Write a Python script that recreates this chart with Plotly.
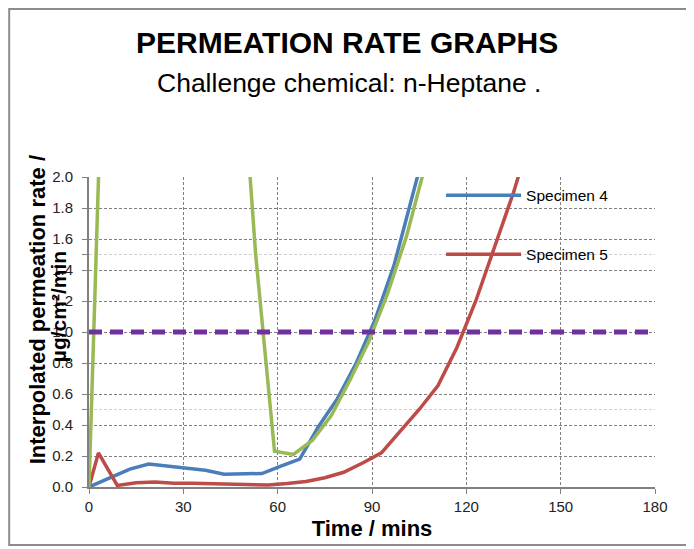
import plotly.graph_objects as go

# Specimen 4 (blue)
spec4_t = [0, 13, 19, 25, 31, 37, 43, 49, 55, 61, 67, 73, 79, 85, 91, 97, 103, 109]
spec4_v = [0.0, 0.115, 0.148, 0.135, 0.12, 0.108, 0.083, 0.085, 0.087, 0.135, 0.18,
           0.39, 0.57, 0.80, 1.08, 1.43, 1.88, 2.35]

# Specimen 5 (red)
spec5_t = [0, 3, 9, 15, 21, 27, 33, 39, 45, 51, 57, 63, 69, 75, 81, 87, 93, 99, 105,
           111, 117, 123, 129, 135, 141]
spec5_v = [0.0, 0.22, 0.01, 0.027, 0.032, 0.025, 0.025, 0.022, 0.02, 0.02, 0.013, 0.022,
           0.035, 0.06, 0.095, 0.155, 0.22, 0.36, 0.50, 0.655, 0.90, 1.20, 1.55, 1.90, 2.3]

# third specimen (green), not in legend
spec6_t = [0, 5, 11, 17, 23, 29, 35, 41, 47, 53, 59, 65, 71, 77, 83, 89, 95, 101, 107]
spec6_v = [0.0, 3.3, 6.0, 7.5, 8.0, 7.2, 6.0, 4.8, 3.2, 1.5, 0.23, 0.21, 0.30, 0.46,
           0.69, 0.94, 1.25, 1.62, 2.08]

# 1.0 reference line
limit_t = [0, 180]
limit_v = [1.0, 1.0]

x_ticks = [0, 30, 60, 90, 120, 150, 180]

FONT = "Liberation Sans, Arial, sans-serif"
GRID = "#808080"

fig = go.Figure()
fig.add_trace(go.Scatter(x=spec4_t, y=spec4_v, mode="lines", name="Specimen 4",
                         legendgroup="a", line=dict(color="#4a7ebb", width=3.5)))
fig.add_trace(go.Scatter(x=spec5_t, y=spec5_v, mode="lines", name="Specimen 5",
                         legendgroup="b", line=dict(color="#be4b48", width=3.5)))
fig.add_trace(go.Scatter(x=spec6_t, y=spec6_v, mode="lines", name="Specimen 6",
                         showlegend=False, line=dict(color="#98b954", width=3.5)))
fig.add_trace(go.Scatter(x=limit_t, y=limit_v, mode="lines", showlegend=False,
                         line=dict(color="#7030a0", width=5, dash="13px,8px")))

fig.update_xaxes(range=[0, 180], tickvals=x_ticks, showline=True, linecolor=GRID, linewidth=2,
                 ticks="outside", ticklen=5, tickcolor=GRID, showgrid=True, gridcolor=GRID,
                 griddash="3px,2px", gridwidth=1, zeroline=False,
                 tickfont=dict(family=FONT, size=15, color="#222"),
                 title=dict(text="<b>Time / mins</b>", standoff=7,
                            font=dict(family=FONT, size=22, color="#000")))
fig.update_yaxes(range=[0, 2.0], dtick=0.2, tickformat=".1f", showline=True, linecolor=GRID,
                 linewidth=2, ticks="outside", ticklen=5, tickcolor=GRID, showgrid=True,
                 gridcolor=GRID, griddash="3px,2px", gridwidth=1, zeroline=False,
                 ticklabelstandoff=6,
                 tickfont=dict(family=FONT, size=15, color="#222"),
                 minor=dict(dtick=0.5, showgrid=True, gridcolor="#d0d0d0", griddash="3px,2px",
                            ticks="outside", ticklen=5, tickcolor=GRID))

fig.update_layout(
    width=686, height=541,
    margin=dict(l=81, r=39, t=169, b=62),
    paper_bgcolor="white", plot_bgcolor="white",
    font=dict(family=FONT, color="#000"),
    showlegend=True,
    legend=dict(x=0.622, y=0.995, xanchor="left", yanchor="top", bgcolor="rgba(0,0,0,0)",
                font=dict(family=FONT, size=15.5), tracegroupgap=36, itemwidth=75),
    shapes=[dict(type="rect", xref="paper", yref="paper", x0=-0.141, x1=1.0565,
                 y0=-0.187, y1=1.542, line=dict(color="#8c8c8c", width=2), layer="below")],
    annotations=[
        dict(text="<b>PERMEATION RATE GRAPHS</b>", xref="paper", yref="paper",
             x=0.455, y=1.435, xanchor="center", yanchor="middle", showarrow=False,
             font=dict(family=FONT, size=30)),
        dict(text="Challenge chemical: n-Heptane .", xref="paper", yref="paper",
             x=0.46, y=1.303, xanchor="center", yanchor="middle", showarrow=False,
             font=dict(family=FONT, size=26.5)),
        dict(text="<b>Interpolated permeation rate /</b>", xref="paper", yref="paper",
             x=-0.092, y=0.573, xanchor="center", yanchor="middle", textangle=-90,
             showarrow=False, font=dict(family=FONT, size=22)),
        dict(text="<b>µg/cm²/min</b>", xref="paper", yref="paper",
             x=-0.055, y=0.583, xanchor="center", yanchor="middle", textangle=-90,
             showarrow=False, font=dict(family=FONT, size=21)),
    ],
)

fig.write_html("out.html")
